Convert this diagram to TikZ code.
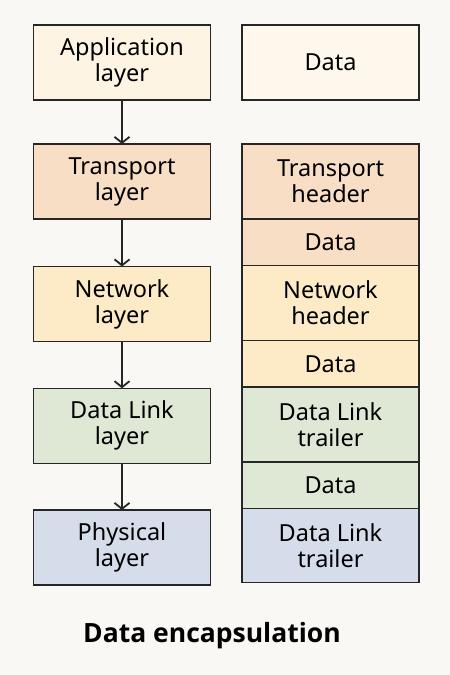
\documentclass[tikz,border=0pt]{standalone}
\usepackage{fontspec}
\setmainfont{Noto Sans}
\newfontfamily\titlefont{Open Sans}
\usetikzlibrary{positioning,arrows.meta}
\definecolor{bgcol}{HTML}{FAF8F4}
\definecolor{edgecol}{HTML}{262626}
\definecolor{appcol}{HTML}{FDF4E3}
\definecolor{datacol}{HTML}{FEF7EC}
\definecolor{transcol}{HTML}{F9DEC6}
\definecolor{netcol}{HTML}{FCEBC6}
\definecolor{linkcol}{HTML}{DFE8D5}
\definecolor{physcol}{HTML}{D5DDEA}
\tikzset{layer/.style={draw=edgecol,line width=1.5pt,outer sep=0pt,minimum width=177pt,minimum height=75pt,inner sep=0pt,align=center,font=\fontsize{23.5}{26}\selectfont}}
\tikzset{slim/.style={layer,minimum height=46.5pt}}
\tikzset{down/.style={draw=edgecol,line width=1.8pt,-{Straight Barb[length=6pt,width=15pt,line width=1.8pt]}}}

\begin{document}
\begin{tikzpicture}[x=1pt,y=-1pt]
	\fill[bgcol] (0,0) rectangle (450,675);
	\useasboundingbox (0,0) rectangle (450,675);
	% layers
	\node[layer,fill=appcol] (app) at (122,62.3) {Application\\layer};
	\node[layer,fill=transcol] (trans) at (122,181.5) {Transport\\layer};
	\node[layer,fill=netcol] (net) at (122,304) {Network\\layer};
	\node[layer,fill=linkcol] (link) at (122,425.8) {Data Link\\layer};
	\node[layer,fill=physcol] (phys) at (122,547.5) {Physical\\layer};
	\draw[down] (app) -- (trans);
	\draw[down] (trans) -- (net);
	\draw[down] (net) -- (link);
	\draw[down] (link) -- (phys);
	% encapsulated units
	\node[layer,fill=datacol] (d0) at (330.5,62.3) {Data};
	\node[layer,fill=transcol] (th) at (330.5,181.5) {Transport\\header};
	\node[slim,fill=transcol,below=0pt of th] (td) {Data};
	\node[layer,fill=netcol,below=0pt of td] (nh) {Network\\header};
	\node[slim,fill=netcol,below=0pt of nh] (nd) {Data};
	\node[layer,fill=linkcol,below=0pt of nd] (lt) {Data Link\\trailer};
	\node[slim,fill=linkcol,below=0pt of lt] (ld) {Data};
	\node[layer,fill=physcol,below=0pt of ld,minimum height=74pt] (lt2) {Data Link\\trailer};
	\node[font=\titlefont\bfseries\fontsize{26.5}{30}\selectfont] (title) at (212,636) {Data encapsulation};
\end{tikzpicture}
\end{document}
